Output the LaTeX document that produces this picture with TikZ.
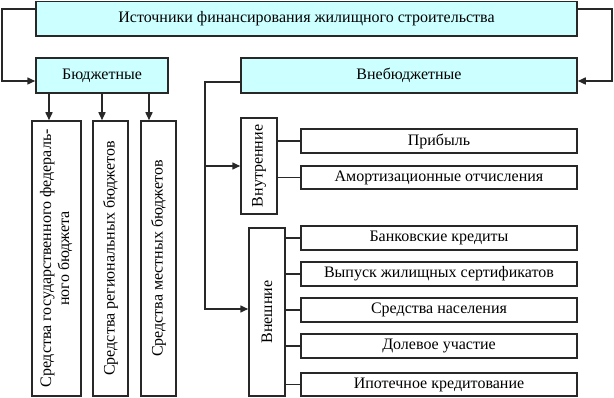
\documentclass[tikz,border=0pt]{standalone}
\usepackage{fontspec}
\setmainfont{Liberation Serif}
\usetikzlibrary{arrows.meta}
\definecolor{cyanfill}{RGB}{204,255,255}
\definecolor{linecol}{RGB}{40,40,40}
\begin{document}
\begin{tikzpicture}[x=1pt,y=-1pt,
  box/.style={draw=linecol, line width=1.5pt, rectangle, inner sep=0pt, align=center,
    font=\fontsize{16}{18}\selectfont},
  fillbox/.style={box, fill=cyanfill},
  conn/.style={draw=linecol, line width=1.5pt},
  arr/.style={conn, -{Triangle[length=8pt,width=7pt]}}]
\useasboundingbox (0,0) rectangle (614,398);
% top and level 1
\node[fillbox, minimum width=541pt, minimum height=34.5pt] (top) at (306.5,18.75) {Источники финансирования жилищного строительства};
\node[fillbox, minimum width=132pt, minimum height=35pt] (budget) at (102,75.5) {Бюджетные};
\node[fillbox, minimum width=336pt, minimum height=35pt] (extra) at (409,75.5) {Внебюджетные};
% budget branches
\node[box, minimum width=49pt, minimum height=275pt] (v1) at (56.5,258.5) {\rotatebox{90}{\begin{tabular}{@{}c@{}}Средства государственного федераль-\\ного бюджета\end{tabular}}};
\node[box, minimum width=35pt, minimum height=275pt] (v2) at (110.5,258.5) {\rotatebox{90}{Средства региональных бюджетов}};
\node[box, minimum width=35pt, minimum height=275pt] (v3) at (158.5,258.5) {\rotatebox{90}{Средства местных бюджетов}};
% extra-budget branches
\node[box, minimum width=36pt, minimum height=96pt] (inner) at (259,166) {\rotatebox{90}{Внутренние}};
\node[box, minimum width=36pt, minimum height=168pt] (outer) at (267,312) {\rotatebox{90}{Внешние}};
\node[box, minimum width=276pt, minimum height=24pt] (p1) at (439,141) {Прибыль};
\node[box, minimum width=276pt, minimum height=23pt] (p2) at (439,177.5) {Амортизационные отчисления};
\node[box, minimum width=276pt, minimum height=24pt] (e1) at (439,238) {Банковские кредиты};
\node[box, minimum width=276pt, minimum height=24pt] (e2) at (439,274) {Выпуск жилищных сертификатов};
\node[box, minimum width=276pt, minimum height=24pt] (e3) at (439,310) {Средства населения};
\node[box, minimum width=276pt, minimum height=24pt] (e4) at (439,346) {Долевое участие};
\node[box, minimum width=276pt, minimum height=23pt] (e5) at (439,384.5) {Ипотечное кредитование};
% connectors
\draw[arr] (top.west |- 0,9) -| (2,81) -- (budget.west |- 0,81);
\draw[arr] (top.east |- 0,9) -| (612,81) -- (extra.east |- 0,81);
\draw[arr] (budget.south -| 49,0) -- (v1.north -| 49,0);
\draw[arr] (budget.south -| 102,0) -- (v2.north -| 102,0);
\draw[arr] (budget.south -| 149,0) -- (v3.north -| 149,0);
\draw[arr] (extra.west |- 0,82) -| (205,309) -- (outer.west |- 0,309);
\draw[arr] (205,166) -- (inner.west |- 0,166);
\draw[conn] (inner.east |- p1.west) -- (p1.west);
\draw[conn] (inner.east |- p2.west) -- (p2.west);
\foreach \n in {e1,e2,e3,e4,e5} \draw[conn] (outer.east |- \n.west) -- (\n.west);
\end{tikzpicture}
\end{document}
